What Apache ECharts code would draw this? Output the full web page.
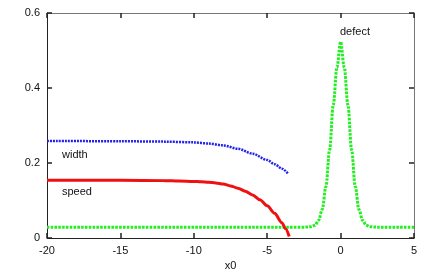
<!DOCTYPE html>
<html>
<head>
<meta charset="utf-8">
<script src="https://cdn.jsdelivr.net/npm/echarts@6/dist/echarts.min.js"></script>
<style>html,body{margin:0;padding:0;background:#fff}#c{width:436px;height:273px}</style>
</head>
<body>
<div id="c"></div>
<script>
// x ticks and y ticks
var xTicks = [-20, -15, -10, -5, 0, 5];
var yTicks = [0, 0.2, 0.4, 0.6];

// width series (blue dotted)
var widthX = [-20, -15, -12, -10, -9, -8, -7, -6, -5, -4.5, -4, -3.55];
var widthY = [0.259, 0.258, 0.257, 0.255, 0.252, 0.247, 0.238, 0.225, 0.208, 0.197, 0.185, 0.170];

// speed series (red solid)
var speedX = [-20, -15, -12, -11, -10, -9.5, -9, -8.5, -8, -7.5, -7, -6.5, -6, -5.5, -5, -4.5, -4, -3.75, -3.5];
var speedY = [0.154, 0.154, 0.153, 0.152, 0.151, 0.150, 0.149, 0.147, 0.144, 0.139, 0.133, 0.125, 0.115, 0.102, 0.086, 0.066, 0.041, 0.025, 0.004];

// defect series (green dotted)
var defectX = [-20, -10, -2.5, -2, -1.75, -1.5, -1.25, -1, -0.75, -0.5, -0.25, 0, 0.25, 0.5, 0.75, 1, 1.25, 1.5, 1.75, 2, 2.5, 5];
var defectY = [0.029, 0.029, 0.029, 0.030, 0.034, 0.047, 0.076, 0.137, 0.235, 0.355, 0.455, 0.523, 0.455, 0.355, 0.235, 0.137, 0.076, 0.047, 0.034, 0.030, 0.029, 0.029];

function pairs(xs, ys) { return xs.map(function (x, i) { return [x, ys[i]]; }); }

var font = 'Liberation Sans, Arial, sans-serif';
var axisColor = '#222';
var xMin = xTicks[0], xMax = xTicks[xTicks.length - 1];
var yMin = yTicks[0], yMax = yTicks[yTicks.length - 1];

var chart = echarts.init(document.getElementById('c'), null, {renderer: 'canvas'});
chart.setOption({
  animation: false,
  backgroundColor: '#fff',
  grid: {left: 47, top: 13, right: 22, bottom: 35, containLabel: false, outerBoundsMode: 'none'},
  xAxis: [{
    type: 'value', min: xMin, max: xMax, interval: 5,
    name: 'x0', nameLocation: 'middle', nameGap: 22,
    nameTextStyle: {color: '#111', fontSize: 11, fontFamily: font},
    axisLine: {show: true, onZero: false, lineStyle: {color: axisColor, width: 1}},
    axisTick: {show: true, inside: true, length: 5, lineStyle: {color: '#222', width: 1.5}},
    axisLabel: {color: '#111', fontSize: 11, fontFamily: font, margin: 7},
    splitLine: {show: false}
  }, {
    type: 'value', position: 'top', min: xMin, max: xMax, interval: 5,
    axisLine: {show: true, onZero: false, lineStyle: {color: '#777', width: 1}},
    axisTick: {show: true, inside: true, length: 5, lineStyle: {color: '#222', width: 1.5}},
    axisLabel: {show: false}, splitLine: {show: false}
  }],
  yAxis: [{
    type: 'value', min: yMin, max: yMax, interval: 0.2,
    axisLine: {show: true, onZero: false, lineStyle: {color: axisColor, width: 1}},
    axisTick: {show: true, inside: true, length: 5, lineStyle: {color: '#222', width: 1.5}},
    axisLabel: {color: '#111', fontSize: 11, fontFamily: font, margin: 7,
      formatter: function (v) { return String(Math.round(v * 10) / 10); }},
    splitLine: {show: false}
  }, {
    type: 'value', position: 'right', min: yMin, max: yMax, interval: 0.2,
    axisLine: {show: true, onZero: false, lineStyle: {color: '#777', width: 1}},
    axisTick: {show: true, inside: true, length: 5, lineStyle: {color: '#222', width: 1.5}},
    axisLabel: {show: false}, splitLine: {show: false}
  }],
  series: [{
    name: 'defect', type: 'line', data: pairs(defectX, defectY),
    symbol: 'none', smooth: 0.35, smoothMonotone: 'x',
    lineStyle: {color: '#22ee22', width: 3, type: [2.6, 1.2], cap: 'butt'}
  }, {
    name: 'width', type: 'line', data: pairs(widthX, widthY),
    symbol: 'none', smooth: 0.3, smoothMonotone: 'x',
    lineStyle: {color: '#2222ee', width: 2.5, type: [2, 1], cap: 'butt'}
  }, {
    name: 'speed', type: 'line', data: pairs(speedX, speedY),
    symbol: 'none', smooth: 0.3, smoothMonotone: 'x', clip: true,
    lineStyle: {color: '#ee1111', width: 3, type: 'solid'}
  }],
  graphic: [
    {type: 'text', left: 62, top: 149, style: {text: 'width', fill: '#111', font: '11px ' + font}},
    {type: 'text', left: 62, top: 186, style: {text: 'speed', fill: '#111', font: '11px ' + font}},
    {type: 'text', left: 340, top: 26, style: {text: 'defect', fill: '#111', font: '11px ' + font}}
  ]
});
</script>
</body>
</html>
